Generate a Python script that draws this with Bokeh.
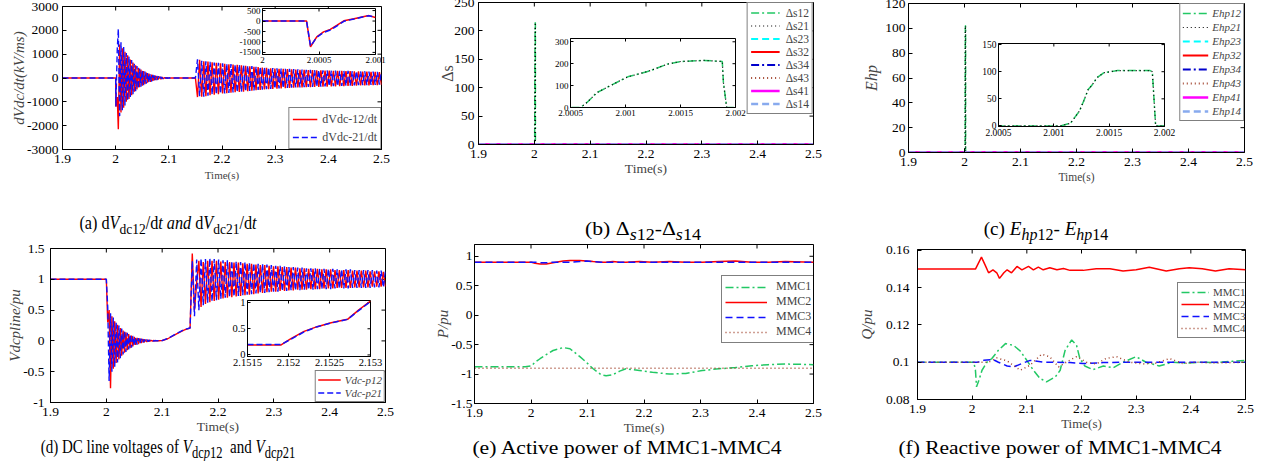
import numpy as np
from bokeh.plotting import figure
from bokeh.models import Range1d, FixedTicker, Legend, LegendItem, Div
from bokeh.layouts import column
from bokeh.embed import file_html
from bokeh.resources import INLINE

FONT = "Liberation Serif"

# ---------------------------------------------------------------- data
X_TICKS = [1.9, 2.0, 2.1, 2.2, 2.3, 2.4, 2.5]
X_LABELS = ["1.9", "2", "2.1", "2.2", "2.3", "2.4", "2.5"]

# (a) dVdc/dt
A_YTICKS = [-3000, -2000, -1000, 0, 1000, 2000, 3000]
A_YLABELS = ["-3000", "-2000", "-1000", "0", "1000", "2000", "3000"]
A_T1 = [1.9, 2.0000, 2.0004, 2.0030, 2.0050, 2.0075, 2.0100, 2.0125, 2.0150, 2.0175, 2.0200,
        2.0225, 2.0250, 2.0275, 2.0300, 2.0325, 2.0350, 2.0375, 2.0400, 2.0425, 2.0450,
        2.0475, 2.0500, 2.0525, 2.0550, 2.0575, 2.0600, 2.0625, 2.0650, 2.0675, 2.0700,
        2.0725, 2.0750, 2.0775, 2.0800, 2.0825, 2.0850, 2.0875, 2.0900, 2.0925, 2.0950,
        2.0975, 2.1000, 2.1050, 2.1500]
A21_1 = [0, 0, -1200, 1200, 2050, -1600, 1500, -1350, 1300, -1150, 1050, -950, 900, -800, 750,
         -680, 600, -550, 500, -450, 400, -360, 330, -300, 270, -240, 210, -190, 170, -150, 130,
         -110, 100, -85, 75, -60, 50, -40, 35, -25, 20, -12, 8, 0, 0]
A12_1 = [0, 0, -1200, -800, -2150, 1400, -1450, 1250, -1250, 1100, -1000, 950, -880, 780, -720,
         650, -580, 530, -480, 430, -390, 350, -320, 290, -260, 230, -200, 180, -160, 140, -120,
         105, -90, 80, -65, 55, -45, 38, -30, 22, -15, 10, -5, 0, 0]
A21_2 = [0, 780, -760, 720, -790, 700, -740, 680, -700, 650,
         -690, 640, -660, 620, -650, 600, -630, 590, -610, 570,
         -600, 560, -580, 540, -560, 520, -540, 500, -520, 480,
         -500, 470, -490, 450, -470, 440, -460, 420, -450, 410,
         -440, 400, -430, 390, -420, 380, -410, 370, -400, 360,
         -390, 350, -380, 345, -375, 340, -370, 335, -365, 330,
         -360, 325, -355, 320, -350, 315, -345, 310, -340, 305,
         -335, 300, -330, 295, -320, 290, -315, 285, -305, 280,
         -300, 275, -295, 270, -290, 265, -285, 260, -280, 255]
A12_2 = [0, -800, 760, -780, 700, -760, 690, -720, 660, -700,
         640, -680, 620, -650, 600, -640, 580, -620, 560, -600,
         550, -590, 530, -570, 510, -550, 490, -530, 470, -510,
         460, -500, 440, -480, 430, -470, 410, -460, 400, -450,
         390, -440, 380, -430, 370, -420, 360, -410, 350, -400,
         345, -395, 340, -385, 335, -380, 330, -375, 325, -370,
         320, -365, 315, -360, 310, -355, 305, -350, 300, -345,
         295, -340, 290, -335, 285, -330, 280, -320, 275, -315,
         270, -310, 265, -305, 260, -300, 255, -295, 250, -290]
A_IN_T = [2.0, 2.00039, 2.000425, 2.00048, 2.00054, 2.0006, 2.00066, 2.00072, 2.00081, 2.0009, 2.00094, 2.001]
A_IN_12 = [0, 0, -1230, -760, -520, -400, -200, 10, 110, 220, 260, 170]
A_IN_21 = [0, 0, -1200, -780, -550, -430, -230, -10, 100, 210, 250, 180]
A_IN_XT = [2.0, 2.0005, 2.001]
A_IN_XL = ["2", "2.0005", "2.001"]
A_IN_YT = [-1500, -1000, -500, 0, 500]
A_IN_YL = ["-1500", "-1000", "-500", "0", "500"]

# (b) Delta s
B_YTICKS = [0, 50, 100, 150, 200, 250]
B_YLABELS = ["0", "50", "100", "150", "200", "250"]
DS_T = [1.9, 2.0005, 2.00059, 2.00065, 2.00074, 2.00086, 2.00102, 2.0012, 2.00126, 2.00138,
        2.0015, 2.00171, 2.00188, 2.00189, 2.00192, 2.002, 2.5]
DS12 = [0, 0, 0, 23, 68, 99, 140, 164, 175, 198, 210, 215, 210, 114, 0, 0, 0]
DS21 = [0, 0, 0, 23, 68, 99, 140, 164, 175, 198, 210, 215, 210, 114, 0, 0, 0]
ZT = [1.9, 2.5]
DS23 = [0, 0]
DS32 = [0, 0]
DS34 = [0, 0]
DS43 = [0, 0]
DS41 = [0, 0]
DS14 = [0, 0]
B_IN_XT = [2.0005, 2.001, 2.0015, 2.002]
B_IN_XL = ["2.0005", "2.001", "2.0015", "2.002"]
B_IN_YT = [0, 100, 200, 300]
B_IN_YL = ["0", "100", "200", "300"]

# (c) Ehp
C_YTICKS = [0, 20, 40, 60, 80, 100, 120]
C_YLABELS = ["0", "20", "40", "60", "80", "100", "120"]
EH_T = [1.9, 2.0005, 2.00106, 2.00115, 2.00123, 2.00127, 2.00131, 2.00134, 2.00139, 2.00145,
        2.00157, 2.00187, 2.00189, 2.00192, 2.002, 2.5]
EH12 = [0, 0, 0, 5, 27, 46, 67, 74, 89, 98, 102, 102, 100, 0, 0, 0]
EH21 = [0, 0, 0, 5, 27, 46, 67, 74, 89, 98, 102, 102, 100, 0, 0, 0]
EH23 = [0, 0]
EH32 = [0, 0]
EH34 = [0, 0]
EH43 = [0, 0]
EH41 = [0, 0]
EH14 = [0, 0]
C_IN_XT = [2.0005, 2.001, 2.0015, 2.002]
C_IN_XL = ["2.0005", "2.001", "2.0015", "2.002"]
C_IN_YT = [0, 50, 100, 150]
C_IN_YL = ["0", "50", "100", "150"]

# (d) DC line voltages
D_YTICKS = [-1, -0.5, 0, 0.5, 1, 1.5]
D_YLABELS = ["-1", "-0.5", "0", "0.5", "1", "1.5"]
D_PRE_T = [1.9]
D12_PRE = [1.0]
D21_PRE = [1.0]
D21_1 = [1.0, 0.55, -0.65, 0.45, -0.5, 0.38, -0.42, 0.3, -0.35, 0.25, -0.28, 0.2, -0.22, 0.16,
         -0.18, 0.13, -0.14, 0.1, -0.11, 0.08, -0.08, 0.06, -0.06, 0.045, -0.045, 0.035, -0.03,
         0.025, -0.02, 0.02, -0.012, 0.014, -0.006, 0.01, -0.003, 0.006, 0.0, 0.004, 0.002, 0.003, 0.005]
D12_1 = [1.0, 0.3, 0.5, -0.77, 0.4, -0.45, 0.32, -0.36, 0.26, -0.3, 0.21, -0.24, 0.17, -0.19,
         0.14, -0.15, 0.11, -0.12, 0.085, -0.09, 0.065, -0.065, 0.05, -0.05, 0.04, -0.035, 0.03,
         -0.025, 0.022, -0.015, 0.016, -0.008, 0.011, -0.003, 0.007, 0.0, 0.005, 0.002, 0.003, 0.004, 0.006]
D_MID_T = [2.11, 2.12, 2.13, 2.14]
D12_MID = [0.035, 0.085, 0.135, 0.18]
D21_MID = [0.04, 0.09, 0.14, 0.185]
D21_2 = [0.21, 1.3, 0.4, 1.32, 0.5, 1.34, 0.58, 1.33, 0.62, 1.34,
         0.64, 1.33, 0.66, 1.32, 0.68, 1.31, 0.7, 1.31, 0.71, 1.3,
         0.72, 1.29, 0.73, 1.28, 0.74, 1.28, 0.75, 1.27, 0.76, 1.26,
         0.77, 1.25, 0.78, 1.25, 0.78, 1.24, 0.79, 1.23, 0.8, 1.22,
         0.8, 1.22, 0.81, 1.21, 0.81, 1.2, 0.82, 1.2, 0.82, 1.19,
         0.82, 1.19, 0.83, 1.18, 0.83, 1.18, 0.83, 1.18, 0.84, 1.17,
         0.84, 1.17, 0.84, 1.17, 0.84, 1.17, 0.85, 1.16, 0.85, 1.16,
         0.85, 1.16, 0.85, 1.16, 0.86, 1.15, 0.86, 1.15, 0.86, 1.15,
         0.86, 1.15, 0.86, 1.15, 0.87, 1.14, 0.87, 1.14, 0.87, 1.14]
D12_2 = [0.21, 1.42, 0.5, 0.95, 1.3, 0.55, 1.28, 0.6, 1.3, 0.63,
         1.3, 0.65, 1.3, 0.67, 1.29, 0.69, 1.28, 0.7, 1.28, 0.71,
         1.27, 0.72, 1.27, 0.73, 1.26, 0.74, 1.25, 0.75, 1.25, 0.76,
         1.24, 0.77, 1.23, 0.78, 1.23, 0.79, 1.22, 0.8, 1.21, 0.8,
         1.21, 0.81, 1.2, 0.81, 1.2, 0.82, 1.19, 0.82, 1.19, 0.83,
         1.18, 0.83, 1.18, 0.83, 1.17, 0.84, 1.17, 0.84, 1.17, 0.84,
         1.16, 0.85, 1.16, 0.85, 1.16, 0.85, 1.15, 0.86, 1.15, 0.86,
         1.15, 0.86, 1.15, 0.86, 1.14, 0.87, 1.14, 0.87, 1.14, 0.87,
         1.14, 0.87, 1.13, 0.88, 1.13, 0.88, 1.13, 0.88, 1.12, 0.88]
D_IN_T = [2.1515, 2.15191, 2.15203, 2.15219, 2.15235, 2.15252, 2.15272, 2.15285, 2.153]
D_IN_12 = [0.19, 0.19, 0.31, 0.45, 0.54, 0.615, 0.68, 0.85, 1.03]
D_IN_21 = [0.2, 0.2, 0.3, 0.44, 0.54, 0.61, 0.68, 0.84, 1.02]
D_IN_XT = [2.1515, 2.152, 2.1525, 2.153]
D_IN_XL = ["2.1515", "2.152", "2.1525", "2.153"]
D_IN_YT = [0, 0.5, 1]
D_IN_YL = ["0", "0.5", "1"]

# (e) active power
E_YTICKS = [-1.5, -1, -0.5, 0, 0.5, 1]
E_YLABELS = ["-1.5", "-1", "-0.5", "0", "0.5", "1"]
P_T = [1.9, 1.99, 2.001, 2.007, 2.016, 2.027, 2.039, 2.057, 2.069, 2.086, 2.098, 2.11, 2.124, 2.133,
       2.145, 2.157, 2.168, 2.192, 2.215, 2.245, 2.274, 2.303, 2.333, 2.362, 2.391, 2.42, 2.45, 2.5]
MMC1_P = [-0.875, -0.875, -0.86, -0.8, -0.74, -0.67, -0.6, -0.55, -0.57, -0.7, -0.8, -0.91, -1.01,
          -1.03, -1.01, -0.95, -0.91, -0.94, -0.97, -1.0, -0.99, -0.94, -0.91, -0.89, -0.86, -0.84,
          -0.83, -0.84]
MMC2_P = [0.9, 0.9, 0.9, 0.88, 0.87, 0.87, 0.89, 0.92, 0.93, 0.93, 0.92, 0.91, 0.9, 0.9, 0.91, 0.9,
          0.9, 0.91, 0.9, 0.91, 0.9, 0.9, 0.91, 0.92, 0.9, 0.9, 0.91, 0.9]
MMC3_P = [0.9, 0.9, 0.9, 0.9, 0.89, 0.89, 0.9, 0.9, 0.9, 0.91, 0.92, 0.91, 0.9, 0.9, 0.9, 0.9, 0.9,
          0.9, 0.9, 0.9, 0.9, 0.9, 0.9, 0.9, 0.9, 0.9, 0.9, 0.9]
P4_T = [1.9, 2.5]
MMC4_P = [-0.9, -0.9]

# (f) reactive power
F_YTICKS = [0.08, 0.1, 0.12, 0.14, 0.16]
F_YLABELS = ["0.08", "0.1", "0.12", "0.14", "0.16"]
Q1_T = [1.9, 2.003, 2.006, 2.008, 2.012, 2.018, 2.027, 2.036, 2.048, 2.061, 2.076, 2.088, 2.1, 2.112,
        2.124, 2.136, 2.152, 2.161, 2.17, 2.182, 2.191, 2.197, 2.206, 2.221, 2.24, 2.258, 2.276, 2.3,
        2.318, 2.342, 2.367, 2.391, 2.415, 2.445, 2.476, 2.5]
MMC1_Q = [0.1, 0.1, 0.0957, 0.0868, 0.09, 0.0957, 0.1, 0.102, 0.1064, 0.11, 0.109, 0.106, 0.101,
          0.0957, 0.0913, 0.0895, 0.0921, 0.0957, 0.1064, 0.112, 0.109, 0.102, 0.098, 0.096, 0.098,
          0.097, 0.1, 0.103, 0.1, 0.098, 0.1, 0.0995, 0.1, 0.0998, 0.1005, 0.101]
Q2_T = [1.9, 2.006, 2.017, 2.024, 2.03, 2.038, 2.045, 2.05, 2.058, 2.064, 2.072, 2.082, 2.091, 2.103,
        2.112, 2.121, 2.13, 2.142, 2.155, 2.167, 2.179, 2.203, 2.227, 2.252, 2.276, 2.3, 2.324, 2.355,
        2.379, 2.397, 2.421, 2.445, 2.47, 2.5]
MMC2_Q = [0.15, 0.15, 0.1564, 0.152, 0.148, 0.1496, 0.148, 0.145, 0.148, 0.1496, 0.148, 0.1514,
          0.1496, 0.1514, 0.1496, 0.151, 0.1496, 0.1507, 0.1496, 0.1503, 0.1493, 0.1493, 0.1502,
          0.1502, 0.149, 0.1496, 0.151, 0.149, 0.1502, 0.1507, 0.1502, 0.149, 0.1502, 0.1496]
Q3_T = [1.9, 2.01, 2.021, 2.038, 2.048, 2.064, 2.076, 2.091, 2.106, 2.13, 2.155, 2.179, 2.203, 2.24,
        2.276, 2.35, 2.5]
MMC3_Q = [0.1, 0.1, 0.101, 0.1015, 0.1, 0.098, 0.0975, 0.0993, 0.101, 0.1, 0.1, 0.0998, 0.0993,
          0.0998, 0.1, 0.1, 0.1]
Q4_T = [1.9, 2.03, 2.045, 2.064, 2.088, 2.106, 2.127, 2.142, 2.158, 2.173, 2.191, 2.209, 2.227,
        2.245, 2.264, 2.288, 2.312, 2.336, 2.361, 2.385, 2.409, 2.445, 2.5]
MMC4_Q = [0.1, 0.1, 0.1023, 0.1007, 0.0957, 0.0984, 0.1043, 0.1029, 0.0975, 0.1002, 0.103, 0.1,
          0.0991, 0.102, 0.103, 0.1, 0.0991, 0.0995, 0.102, 0.0993, 0.1, 0.0996, 0.1]

# ---------------------------------------------------------------- style
RED = "#ff0000"
BLUE = "#1010ff"
GREEN = "#22c864"
CYAN = "#00ffff"
DBLUE = "#0000cc"
BROWN = "#a0402a"
MAGENTA = "#ff00ff"
LBLUE = "#88aaee"
DASHDOT = "8 3 2 3"
DOTTED = "1 3"
DASHED = "7 4"


def style_axis(ax, ticks, labels, fs, standoff, tick_len=4):
    ax.ticker = FixedTicker(ticks=ticks)
    ax.major_label_overrides = {t: l for t, l in zip(ticks, labels)}
    ax.major_tick_in = tick_len
    ax.major_tick_out = 0
    ax.minor_tick_in = 0
    ax.minor_tick_out = 0
    ax.major_label_text_font = FONT
    ax.major_label_text_font_size = fs
    ax.major_label_standoff = standoff
    ax.axis_line_color = "black"
    ax.major_tick_line_color = "black"
    ax.major_label_text_color = "black"


def box_ticks(p, xr, yr, xt, yt, tick_len=4):
    # tick marks on the top and right edges of the box (Matlab style)
    p.ray(x=xt, y=[yr[1]] * len(xt), length=tick_len, length_units="screen",
          angle=-90, angle_units="deg", line_color="black", line_width=1)
    p.ray(x=[xr[1]] * len(yt), y=yt, length=tick_len, length_units="screen",
          angle=180, angle_units="deg", line_color="black", line_width=1)


def make_fig(box, xr, yr, L, R, T, B, bg=None):
    x0, y0, x1, y1 = box
    p = figure(width=L + (x1 - x0) + R, height=T + (y1 - y0) + B,
               x_range=Range1d(*xr), y_range=Range1d(*yr),
               min_border_left=L, min_border_right=R, min_border_top=T, min_border_bottom=B,
               output_backend="svg", toolbar_location=None, tools="",
               background_fill_color=bg, border_fill_color=None,
               outline_line_color="black", outline_line_width=1)
    p.grid.visible = False
    p.styles = {"position": "absolute", "left": f"{x0 - L}px", "top": f"{y0 - T}px"}
    return p


def main_fig(box, yr, yt, yl, ylabel, ylab_size="15px", ylab_style="italic",
             ytick_so=4, ylab_so=3, xlab_size="11px", tick_fs="13.5px", xtick_so=5, xlab_so=0):
    xr = (1.9, 2.5)
    p = make_fig(box, xr, yr, 72, 12, 14, 44)
    style_axis(p.xaxis[0], X_TICKS, X_LABELS, tick_fs, xtick_so)
    style_axis(p.yaxis[0], yt, yl, tick_fs, ytick_so)
    p.xaxis.axis_label = "Time(s)"
    p.xaxis.axis_label_text_font = FONT
    p.xaxis.axis_label_text_font_size = xlab_size
    p.xaxis.axis_label_text_font_style = "normal"
    p.xaxis.axis_label_standoff = xlab_so
    p.yaxis.axis_label = ylabel
    p.yaxis.axis_label_text_font = FONT
    p.yaxis.axis_label_text_font_size = ylab_size
    p.yaxis.axis_label_text_font_style = ylab_style
    p.yaxis.axis_label_standoff = ylab_so
    box_ticks(p, xr, yr, X_TICKS, yt)
    return p


def inset_fig(box, xr, yr, xt, xl, yt, yl, fs):
    p = make_fig(box, xr, yr, 72, 14, 14, 44, bg="white")
    style_axis(p.xaxis[0], xt, xl, fs, 2, tick_len=3)
    style_axis(p.yaxis[0], yt, yl, fs, 2, tick_len=3)
    box_ticks(p, xr, yr, xt, yt, tick_len=3)
    return p


def legend(p, entries, loc, fs, gw, gh, pad, so, style="normal", spacing=0):
    items = [LegendItem(label=lab, renderers=[r]) for lab, r in entries]
    lg = Legend(items=items, location=loc, margin=0, padding=pad, spacing=spacing,
                glyph_width=gw, glyph_height=gh, label_height=gh, label_standoff=so,
                label_text_font=FONT, label_text_font_size=fs, label_text_font_style=style,
                border_line_color="black", border_line_width=1,
                background_fill_color="white", background_fill_alpha=1.0)
    p.add_layout(lg)


def caption(html, cx, cy, w, sx=1.0, fs=19):
    return Div(text=(f'<div style="font-family:\'{FONT}\';font-size:{fs}px;line-height:22px;'
                     f'text-align:center;white-space:nowrap;color:black;width:{w}px">{html}</div>'),
               width=w, height=22,
               styles={"position": "absolute", "left": f"{cx - w / 2}px", "top": f"{cy - 11}px",
                       "transform": f"scaleX({sx})", "transform-origin": "center"})


# ---------------------------------------------------------------- (a)
pa = main_fig((62, 6, 383, 149), (-3000, 3000), A_YTICKS, A_YLABELS, "dVdc/dt(kV/ms)", ylab_so=-3, xlab_so=3)
ta = list(A_T1) + list(np.linspace(2.15, 2.5, len(A12_2)))
ra = pa.line(ta, list(A12_1) + A12_2, color=RED, line_width=1.4)
ba = pa.line(ta, list(A21_1) + A21_2, color=BLUE, line_width=1.4, line_dash="6 3")
legend(pa, [("dVdc-12/dt", ra), ("dVdc-21/dt", ba)], "bottom_right", "12px", 25, 16, 3, 5, spacing=2)

ia = inset_fig((262, 8, 375, 54), (2.0, 2.001), (-1600, 600), A_IN_XT, A_IN_XL, A_IN_YT, A_IN_YL, "9px")
ia.line(A_IN_T, A_IN_12, color=RED, line_width=1.5)
ia.line(A_IN_T, A_IN_21, color=BLUE, line_width=1.5, line_dash="6 3")

# ---------------------------------------------------------------- (b)
pb = main_fig((478, 2, 815, 144), (0, 250), B_YTICKS, B_YLABELS, "Δs", ylab_size="16px",
              ylab_style="normal", ytick_so=4, ylab_so=-5, xlab_size="13.5px")
b_series = [("Δs12", DS_T, DS12, GREEN, DASHDOT, 1.5), ("Δs21", DS_T, DS21, "black", DOTTED, 1.2),
            ("Δs23", ZT, DS23, CYAN, DASHED, 2), ("Δs32", ZT, DS32, RED, None, 2),
            ("Δs34", ZT, DS34, DBLUE, DASHDOT, 2), ("Δs43", ZT, DS43, BROWN, DOTTED, 2),
            ("Δs41", ZT, DS41, MAGENTA, None, 2.5), ("Δs14", ZT, DS14, LBLUE, DASHED, 2.5)]
b_ent = []
for lab, t, v, c, d, w in b_series:
    kw = {"line_dash": d} if d else {}
    b_ent.append((lab, pb.line(t, v, color=c, line_width=w, **kw)))
legend(pb, b_ent, "top_right", "11.5px", 29, 13, 3, 6)

ib = inset_fig((570, 38, 735, 107), (2.0005, 2.002), (0, 315), B_IN_XT, B_IN_XL, B_IN_YT, B_IN_YL, "9px")
ib.line(DS_T, DS12, color=GREEN, line_width=1.5, line_dash=DASHDOT)
ib.line(DS_T, DS21, color="black", line_width=1.2, line_dash=DOTTED)

# ---------------------------------------------------------------- (c)
pc = main_fig((908, 3, 1246, 152), (0, 120), C_YTICKS, C_YLABELS, "Ehp", ylab_size="16px",
              ytick_so=3, ylab_so=2, xlab_size="11.5px", xlab_so=2)
c_series = [("Ehp12", EH_T, EH12, GREEN, DASHDOT, 1.5), ("Ehp21", EH_T, EH21, "black", DOTTED, 1.2),
            ("Ehp23", ZT, EH23, CYAN, DASHED, 2), ("Ehp32", ZT, EH32, RED, None, 2),
            ("Ehp34", ZT, EH34, DBLUE, DASHDOT, 2), ("Ehp43", ZT, EH43, BROWN, DOTTED, 2),
            ("Ehp41", ZT, EH41, MAGENTA, None, 2.5), ("Ehp14", ZT, EH14, LBLUE, DASHED, 2.5)]
c_ent = []
for lab, t, v, c, d, w in c_series:
    kw = {"line_dash": d} if d else {}
    c_ent.append((lab, pc.line(t, v, color=c, line_width=w, **kw)))
legend(pc, c_ent, "top_right", "11px", 26, 14, 2, 4, style="italic")

ic = inset_fig((998, 43, 1164, 126), (2.0005, 2.002), (-1, 152), C_IN_XT, C_IN_XL, C_IN_YT, C_IN_YL, "9.5px")
ic.line(EH_T, EH12, color=GREEN, line_width=1.5, line_dash=DASHDOT)
ic.line(EH_T, EH21, color="black", line_width=1.2, line_dash=DOTTED)

# ---------------------------------------------------------------- (d)
pd_ = main_fig((50, 248, 387, 402), (-1, 1.5), D_YTICKS, D_YLABELS, "Vdcpline/pu",
               ytick_so=6, ylab_so=-3, xlab_size="13.5px")
td = (list(D_PRE_T) + list(np.linspace(2.0, 2.1, len(D12_1))) + list(D_MID_T)
      + list(np.linspace(2.15, 2.5, len(D12_2))))
rd = pd_.line(td, D12_PRE + D12_1 + D12_MID + D12_2, color=RED, line_width=1.4)
bd = pd_.line(td, D21_PRE + D21_1 + D21_MID + D21_2, color=BLUE, line_width=1.4, line_dash="6 3")
legend(pd_, [("Vdc-p12", rd), ("Vdc-p21", bd)], "bottom_right", "11px", 23, 13, 2, 4, style="italic")

idd = inset_fig((247, 300, 370, 356), (2.1515, 2.153), (-0.03, 1.04), D_IN_XT, D_IN_XL, D_IN_YT, D_IN_YL, "10.5px")
idd.line(D_IN_T, D_IN_12, color=RED, line_width=1.5)
idd.line(D_IN_T, D_IN_21, color=BLUE, line_width=1.5, line_dash="6 3")

# ---------------------------------------------------------------- (e)
pe = main_fig((474, 244, 815, 403), (-1.5, 1.2), E_YTICKS, E_YLABELS, "P/pu",
              ytick_so=2, ylab_so=-3, xlab_size="13px")
e1 = pe.line(P_T, MMC1_P, color=GREEN, line_width=1.5, line_dash=DASHDOT)
e2 = pe.line(P_T, MMC2_P, color=RED, line_width=1.5)
e3 = pe.line(P_T, MMC3_P, color=BLUE, line_width=1.5, line_dash=DASHED)
e4 = pe.line(P4_T, MMC4_P, color=BROWN, line_width=1.5, line_dash=DOTTED)
legend(pe, [("MMC1", e1), ("MMC2", e2), ("MMC3", e3), ("MMC4", e4)], (247, 60), "12px", 42, 12, 3, 9)

# ---------------------------------------------------------------- (f)
pf = main_fig((917, 249, 1247, 399), (0.08, 0.1605), F_YTICKS, F_YLABELS, "Q/pu",
              ytick_so=8, ylab_so=8, xlab_size="13px")
f1 = pf.line(Q1_T, MMC1_Q, color=GREEN, line_width=1.5, line_dash=DASHDOT)
f2 = pf.line(Q2_T, MMC2_Q, color=RED, line_width=1.5)
f3 = pf.line(Q3_T, MMC3_Q, color=BLUE, line_width=1.5, line_dash=DASHED)
f4 = pf.line(Q4_T, MMC4_Q, color=BROWN, line_width=1.5, line_dash=DOTTED)
legend(pf, [("MMC1", f1), ("MMC2", f2), ("MMC3", f3), ("MMC4", f4)], (260, 61), "11px", 28, 12, 3, 4)

# ---------------------------------------------------------------- captions
caps = [
    caption("(a) d<i>V</i><sub>dc12</sub>/d<i>t and</i> d<i>V</i><sub>dc21</sub>/d<i>t</i>", 163, 218, 280, 0.9, 18),
    caption("(b) Δ<sub><i>s</i>12</sub>-Δ<sub><i>s</i>14</sub>", 638, 224, 200, 1.14),
    caption("(c) <i>E</i><sub><i>hp</i>12</sub>- <i>E</i><sub><i>hp</i>14</sub>", 1041, 224, 200, 1.01),
    caption("(d) DC line voltages of <i>V</i><sub>dc<i>p</i>12</sub>&nbsp; and <i>V</i><sub>dc<i>p</i>21</sub>", 163, 442, 340, 0.79),
    caption("(e) Active power of MMC1-MMC4", 622, 443, 300, 1.14),
    caption("(f) Reactive power of MMC1-MMC4", 1055, 443, 320, 1.13),
]

kids = [pa, pb, pc, pd_, pe, pf, ia, ib, ic, idd] + caps
p = column(*kids, width=1254, height=445, sizing_mode="fixed", styles={"position": "relative"})

open("out.html", "w").write(file_html(p, INLINE))
